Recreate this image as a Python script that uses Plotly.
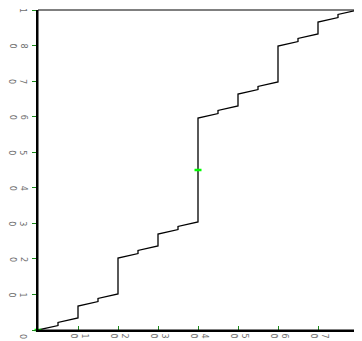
import plotly.graph_objects as go

# ---- data ----
step_x = [0, 0.0625, 0.0625, 0.125, 0.125, 0.1875, 0.1875, 0.25, 0.25, 0.3125, 0.3125,
          0.375, 0.375, 0.4375, 0.4375, 0.5, 0.5, 0.5625, 0.5625, 0.625, 0.625, 0.6875,
          0.6875, 0.75, 0.75, 0.8125, 0.8125, 0.875, 0.875, 0.9375, 0.9375, 1]
step_y = [0, 0.014, 0.0235, 0.0375, 0.075, 0.089, 0.0985, 0.1125, 0.225, 0.239, 0.2485,
          0.2625, 0.3, 0.314, 0.3235, 0.3375, 0.6625, 0.6765, 0.686, 0.7, 0.7375, 0.7515,
          0.761, 0.775, 0.8875, 0.9015, 0.911, 0.925, 0.9625, 0.9765, 0.986, 1]
marker_x = [0, 0.5, 1]
marker_y = [0, 0.5, 1]

x_tick_vals = [0, 0.125, 0.25, 0.375, 0.5, 0.625, 0.75, 0.875, 1]
x_tick_text = ["", "0.1", "0.2", "0.3", "0.4", "0.5", "0.6", "0.7", "1"]
y_tick_vals = [0, 0.1111, 0.2222, 0.3333, 0.4444, 0.5556, 0.6667, 0.7778, 0.8889, 1]
y_tick_text = ["0", "0.1", "0.2", "0.3", "0.4", "0.5", "0.6", "0.7", "0.8", "1"]

# ---- figure ----
fig = go.Figure()
fig.add_trace(go.Scatter(x=step_x, y=step_y, mode="lines",
                         line=dict(color="black", width=1.3),
                         hoverinfo="skip", showlegend=False))
fig.add_trace(go.Scatter(x=marker_x, y=marker_y, mode="markers",
                         marker=dict(symbol="line-ew", size=5, color="#00ff00",
                                     line=dict(color="#00ff00", width=2.5)),
                         cliponaxis=False, showlegend=False))

LABEL_FONT = dict(family="DejaVu Sans", size=8, color="#6e6e6e")
SP = 5.5
annots = []
for v, t in zip(x_tick_vals, x_tick_text):
    n = len(t)
    for i, ch in enumerate(t):
        off = (i - (n - 1) / 2) * SP
        annots.append(dict(text=ch, x=v, xref="x", y=0, yref="paper",
                           xshift=off + 1, yshift=-6, xanchor="center", yanchor="middle",
                           textangle=90, showarrow=False, font=LABEL_FONT))
for v, t in zip(y_tick_vals, y_tick_text):
    n = len(t)
    for i, ch in enumerate(t):
        off = (i - (n - 1)) * SP
        annots.append(dict(text=ch, x=0, xref="paper", y=v, yref="y",
                           xshift=-15 + off, yshift=(-6 if v == 0 else 0),
                           xanchor="center", yanchor="middle",
                           textangle=90, showarrow=False, font=LABEL_FONT))

axis_common = dict(range=[0, 1], showgrid=False, zeroline=False,
                   showline=True, linecolor="black", linewidth=2,
                   ticklen=4, tickwidth=1, tickcolor="#1a8a1a",
                   showticklabels=False)
fig.update_xaxes(tickvals=x_tick_vals, ticks="inside", **axis_common)
fig.update_yaxes(tickvals=y_tick_vals, ticks="outside", **axis_common)

fig.add_shape(type="rect", xref="paper", yref="paper", x0=0, y0=0, x1=1, y1=1,
              line=dict(color="black", width=1), layer="above")

# page body has an 8px default margin, so the figure is sized to fit the window
fig.update_layout(width=354, height=333,
                  margin=dict(l=30, r=4, t=2, b=11, autoexpand=False),
                  paper_bgcolor="white", plot_bgcolor="white",
                  annotations=annots, showlegend=False)

fig.write_html("out.html")
